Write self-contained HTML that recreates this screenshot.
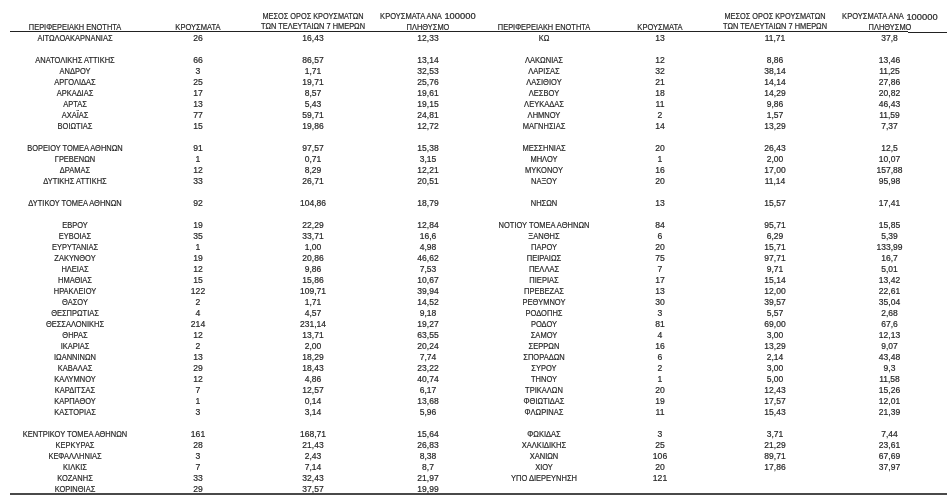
<!DOCTYPE html>
<html><head><meta charset="utf-8"><style>
html,body{margin:0;padding:0;background:#fff;width:951px;height:503px;overflow:hidden}
body{position:relative;filter:grayscale(1);font-family:"Liberation Sans",sans-serif;color:#222}
.c{position:absolute;-webkit-text-stroke:0.2px #333;width:200px;text-align:center;line-height:1;white-space:nowrap}
.ln{position:absolute;background:#222}
</style></head><body>
<div class="ln" style="left:10px;top:31px;width:898px;height:1px"></div>
<div class="ln" style="left:908px;top:32px;width:39px;height:1px"></div>
<div class="ln" style="left:10px;top:493px;width:937px;height:2px;background:#4a4a4a"></div>
<div class="c" style="left:-25.00px;top:34.09px;font-size:8.5px;transform:scaleX(0.88)">ΑΙΤΩΛΟΑΚΑΡΝΑΝΙΑΣ</div>
<div class="c" style="left:98.00px;top:34.08px;font-size:8.6px;transform:scaleX(1)">26</div>
<div class="c" style="left:213.00px;top:34.09px;font-size:8.5px;transform:scaleX(1)">16,43</div>
<div class="c" style="left:328.00px;top:34.09px;font-size:8.5px;transform:scaleX(1)">12,33</div>
<div class="c" style="left:-25.00px;top:56.09px;font-size:8.5px;transform:scaleX(0.88)">ΑΝΑΤΟΛΙΚΗΣ ΑΤΤΙΚΗΣ</div>
<div class="c" style="left:98.00px;top:56.08px;font-size:8.6px;transform:scaleX(1)">66</div>
<div class="c" style="left:213.00px;top:56.09px;font-size:8.5px;transform:scaleX(1)">86,57</div>
<div class="c" style="left:328.00px;top:56.09px;font-size:8.5px;transform:scaleX(1)">13,14</div>
<div class="c" style="left:-25.00px;top:67.09px;font-size:8.5px;transform:scaleX(0.88)">ΑΝΔΡΟΥ</div>
<div class="c" style="left:98.00px;top:67.08px;font-size:8.6px;transform:scaleX(1)">3</div>
<div class="c" style="left:213.00px;top:67.09px;font-size:8.5px;transform:scaleX(1)">1,71</div>
<div class="c" style="left:328.00px;top:67.09px;font-size:8.5px;transform:scaleX(1)">32,53</div>
<div class="c" style="left:-25.00px;top:78.09px;font-size:8.5px;transform:scaleX(0.88)">ΑΡΓΟΛΙΔΑΣ</div>
<div class="c" style="left:98.00px;top:78.08px;font-size:8.6px;transform:scaleX(1)">25</div>
<div class="c" style="left:213.00px;top:78.09px;font-size:8.5px;transform:scaleX(1)">19,71</div>
<div class="c" style="left:328.00px;top:78.09px;font-size:8.5px;transform:scaleX(1)">25,76</div>
<div class="c" style="left:-25.00px;top:89.09px;font-size:8.5px;transform:scaleX(0.88)">ΑΡΚΑΔΙΑΣ</div>
<div class="c" style="left:98.00px;top:89.08px;font-size:8.6px;transform:scaleX(1)">17</div>
<div class="c" style="left:213.00px;top:89.09px;font-size:8.5px;transform:scaleX(1)">8,57</div>
<div class="c" style="left:328.00px;top:89.09px;font-size:8.5px;transform:scaleX(1)">19,61</div>
<div class="c" style="left:-25.00px;top:100.09px;font-size:8.5px;transform:scaleX(0.88)">ΑΡΤΑΣ</div>
<div class="c" style="left:98.00px;top:100.08px;font-size:8.6px;transform:scaleX(1)">13</div>
<div class="c" style="left:213.00px;top:100.09px;font-size:8.5px;transform:scaleX(1)">5,43</div>
<div class="c" style="left:328.00px;top:100.09px;font-size:8.5px;transform:scaleX(1)">19,15</div>
<div class="c" style="left:-25.00px;top:111.09px;font-size:8.5px;transform:scaleX(0.88)">ΑΧΑΪΑΣ</div>
<div class="c" style="left:98.00px;top:111.08px;font-size:8.6px;transform:scaleX(1)">77</div>
<div class="c" style="left:213.00px;top:111.09px;font-size:8.5px;transform:scaleX(1)">59,71</div>
<div class="c" style="left:328.00px;top:111.09px;font-size:8.5px;transform:scaleX(1)">24,81</div>
<div class="c" style="left:-25.00px;top:122.09px;font-size:8.5px;transform:scaleX(0.88)">ΒΟΙΩΤΙΑΣ</div>
<div class="c" style="left:98.00px;top:122.08px;font-size:8.6px;transform:scaleX(1)">15</div>
<div class="c" style="left:213.00px;top:122.09px;font-size:8.5px;transform:scaleX(1)">19,86</div>
<div class="c" style="left:328.00px;top:122.09px;font-size:8.5px;transform:scaleX(1)">12,72</div>
<div class="c" style="left:-25.00px;top:144.09px;font-size:8.5px;transform:scaleX(0.88)">ΒΟΡΕΙΟΥ ΤΟΜΕΑ ΑΘΗΝΩΝ</div>
<div class="c" style="left:98.00px;top:144.08px;font-size:8.6px;transform:scaleX(1)">91</div>
<div class="c" style="left:213.00px;top:144.09px;font-size:8.5px;transform:scaleX(1)">97,57</div>
<div class="c" style="left:328.00px;top:144.09px;font-size:8.5px;transform:scaleX(1)">15,38</div>
<div class="c" style="left:-25.00px;top:155.09px;font-size:8.5px;transform:scaleX(0.88)">ΓΡΕΒΕΝΩΝ</div>
<div class="c" style="left:98.00px;top:155.08px;font-size:8.6px;transform:scaleX(1)">1</div>
<div class="c" style="left:213.00px;top:155.09px;font-size:8.5px;transform:scaleX(1)">0,71</div>
<div class="c" style="left:328.00px;top:155.09px;font-size:8.5px;transform:scaleX(1)">3,15</div>
<div class="c" style="left:-25.00px;top:166.09px;font-size:8.5px;transform:scaleX(0.88)">ΔΡΑΜΑΣ</div>
<div class="c" style="left:98.00px;top:166.08px;font-size:8.6px;transform:scaleX(1)">12</div>
<div class="c" style="left:213.00px;top:166.09px;font-size:8.5px;transform:scaleX(1)">8,29</div>
<div class="c" style="left:328.00px;top:166.09px;font-size:8.5px;transform:scaleX(1)">12,21</div>
<div class="c" style="left:-25.00px;top:177.09px;font-size:8.5px;transform:scaleX(0.88)">ΔΥΤΙΚΗΣ ΑΤΤΙΚΗΣ</div>
<div class="c" style="left:98.00px;top:177.08px;font-size:8.6px;transform:scaleX(1)">33</div>
<div class="c" style="left:213.00px;top:177.09px;font-size:8.5px;transform:scaleX(1)">26,71</div>
<div class="c" style="left:328.00px;top:177.09px;font-size:8.5px;transform:scaleX(1)">20,51</div>
<div class="c" style="left:-25.00px;top:199.09px;font-size:8.5px;transform:scaleX(0.88)">ΔΥΤΙΚΟΥ ΤΟΜΕΑ ΑΘΗΝΩΝ</div>
<div class="c" style="left:98.00px;top:199.08px;font-size:8.6px;transform:scaleX(1)">92</div>
<div class="c" style="left:213.00px;top:199.09px;font-size:8.5px;transform:scaleX(1)">104,86</div>
<div class="c" style="left:328.00px;top:199.09px;font-size:8.5px;transform:scaleX(1)">18,79</div>
<div class="c" style="left:-25.00px;top:221.09px;font-size:8.5px;transform:scaleX(0.88)">ΕΒΡΟΥ</div>
<div class="c" style="left:98.00px;top:221.08px;font-size:8.6px;transform:scaleX(1)">19</div>
<div class="c" style="left:213.00px;top:221.09px;font-size:8.5px;transform:scaleX(1)">22,29</div>
<div class="c" style="left:328.00px;top:221.09px;font-size:8.5px;transform:scaleX(1)">12,84</div>
<div class="c" style="left:-25.00px;top:232.09px;font-size:8.5px;transform:scaleX(0.88)">ΕΥΒΟΙΑΣ</div>
<div class="c" style="left:98.00px;top:232.08px;font-size:8.6px;transform:scaleX(1)">35</div>
<div class="c" style="left:213.00px;top:232.09px;font-size:8.5px;transform:scaleX(1)">33,71</div>
<div class="c" style="left:328.00px;top:232.09px;font-size:8.5px;transform:scaleX(1)">16,6</div>
<div class="c" style="left:-25.00px;top:243.09px;font-size:8.5px;transform:scaleX(0.88)">ΕΥΡΥΤΑΝΙΑΣ</div>
<div class="c" style="left:98.00px;top:243.08px;font-size:8.6px;transform:scaleX(1)">1</div>
<div class="c" style="left:213.00px;top:243.09px;font-size:8.5px;transform:scaleX(1)">1,00</div>
<div class="c" style="left:328.00px;top:243.09px;font-size:8.5px;transform:scaleX(1)">4,98</div>
<div class="c" style="left:-25.00px;top:254.09px;font-size:8.5px;transform:scaleX(0.88)">ΖΑΚΥΝΘΟΥ</div>
<div class="c" style="left:98.00px;top:254.08px;font-size:8.6px;transform:scaleX(1)">19</div>
<div class="c" style="left:213.00px;top:254.09px;font-size:8.5px;transform:scaleX(1)">20,86</div>
<div class="c" style="left:328.00px;top:254.09px;font-size:8.5px;transform:scaleX(1)">46,62</div>
<div class="c" style="left:-25.00px;top:265.09px;font-size:8.5px;transform:scaleX(0.88)">ΗΛΕΙΑΣ</div>
<div class="c" style="left:98.00px;top:265.08px;font-size:8.6px;transform:scaleX(1)">12</div>
<div class="c" style="left:213.00px;top:265.09px;font-size:8.5px;transform:scaleX(1)">9,86</div>
<div class="c" style="left:328.00px;top:265.09px;font-size:8.5px;transform:scaleX(1)">7,53</div>
<div class="c" style="left:-25.00px;top:276.09px;font-size:8.5px;transform:scaleX(0.88)">ΗΜΑΘΙΑΣ</div>
<div class="c" style="left:98.00px;top:276.08px;font-size:8.6px;transform:scaleX(1)">15</div>
<div class="c" style="left:213.00px;top:276.09px;font-size:8.5px;transform:scaleX(1)">15,86</div>
<div class="c" style="left:328.00px;top:276.09px;font-size:8.5px;transform:scaleX(1)">10,67</div>
<div class="c" style="left:-25.00px;top:287.09px;font-size:8.5px;transform:scaleX(0.88)">ΗΡΑΚΛΕΙΟΥ</div>
<div class="c" style="left:98.00px;top:287.08px;font-size:8.6px;transform:scaleX(1)">122</div>
<div class="c" style="left:213.00px;top:287.09px;font-size:8.5px;transform:scaleX(1)">109,71</div>
<div class="c" style="left:328.00px;top:287.09px;font-size:8.5px;transform:scaleX(1)">39,94</div>
<div class="c" style="left:-25.00px;top:298.09px;font-size:8.5px;transform:scaleX(0.88)">ΘΑΣΟΥ</div>
<div class="c" style="left:98.00px;top:298.08px;font-size:8.6px;transform:scaleX(1)">2</div>
<div class="c" style="left:213.00px;top:298.09px;font-size:8.5px;transform:scaleX(1)">1,71</div>
<div class="c" style="left:328.00px;top:298.09px;font-size:8.5px;transform:scaleX(1)">14,52</div>
<div class="c" style="left:-25.00px;top:309.09px;font-size:8.5px;transform:scaleX(0.88)">ΘΕΣΠΡΩΤΙΑΣ</div>
<div class="c" style="left:98.00px;top:309.08px;font-size:8.6px;transform:scaleX(1)">4</div>
<div class="c" style="left:213.00px;top:309.09px;font-size:8.5px;transform:scaleX(1)">4,57</div>
<div class="c" style="left:328.00px;top:309.09px;font-size:8.5px;transform:scaleX(1)">9,18</div>
<div class="c" style="left:-25.00px;top:320.09px;font-size:8.5px;transform:scaleX(0.88)">ΘΕΣΣΑΛΟΝΙΚΗΣ</div>
<div class="c" style="left:98.00px;top:320.08px;font-size:8.6px;transform:scaleX(1)">214</div>
<div class="c" style="left:213.00px;top:320.09px;font-size:8.5px;transform:scaleX(1)">231,14</div>
<div class="c" style="left:328.00px;top:320.09px;font-size:8.5px;transform:scaleX(1)">19,27</div>
<div class="c" style="left:-25.00px;top:331.09px;font-size:8.5px;transform:scaleX(0.88)">ΘΗΡΑΣ</div>
<div class="c" style="left:98.00px;top:331.08px;font-size:8.6px;transform:scaleX(1)">12</div>
<div class="c" style="left:213.00px;top:331.09px;font-size:8.5px;transform:scaleX(1)">13,71</div>
<div class="c" style="left:328.00px;top:331.09px;font-size:8.5px;transform:scaleX(1)">63,55</div>
<div class="c" style="left:-25.00px;top:342.09px;font-size:8.5px;transform:scaleX(0.88)">ΙΚΑΡΙΑΣ</div>
<div class="c" style="left:98.00px;top:342.08px;font-size:8.6px;transform:scaleX(1)">2</div>
<div class="c" style="left:213.00px;top:342.09px;font-size:8.5px;transform:scaleX(1)">2,00</div>
<div class="c" style="left:328.00px;top:342.09px;font-size:8.5px;transform:scaleX(1)">20,24</div>
<div class="c" style="left:-25.00px;top:353.09px;font-size:8.5px;transform:scaleX(0.88)">ΙΩΑΝΝΙΝΩΝ</div>
<div class="c" style="left:98.00px;top:353.08px;font-size:8.6px;transform:scaleX(1)">13</div>
<div class="c" style="left:213.00px;top:353.09px;font-size:8.5px;transform:scaleX(1)">18,29</div>
<div class="c" style="left:328.00px;top:353.09px;font-size:8.5px;transform:scaleX(1)">7,74</div>
<div class="c" style="left:-25.00px;top:364.09px;font-size:8.5px;transform:scaleX(0.88)">ΚΑΒΑΛΑΣ</div>
<div class="c" style="left:98.00px;top:364.08px;font-size:8.6px;transform:scaleX(1)">29</div>
<div class="c" style="left:213.00px;top:364.09px;font-size:8.5px;transform:scaleX(1)">18,43</div>
<div class="c" style="left:328.00px;top:364.09px;font-size:8.5px;transform:scaleX(1)">23,22</div>
<div class="c" style="left:-25.00px;top:375.09px;font-size:8.5px;transform:scaleX(0.88)">ΚΑΛΥΜΝΟΥ</div>
<div class="c" style="left:98.00px;top:375.08px;font-size:8.6px;transform:scaleX(1)">12</div>
<div class="c" style="left:213.00px;top:375.09px;font-size:8.5px;transform:scaleX(1)">4,86</div>
<div class="c" style="left:328.00px;top:375.09px;font-size:8.5px;transform:scaleX(1)">40,74</div>
<div class="c" style="left:-25.00px;top:386.09px;font-size:8.5px;transform:scaleX(0.88)">ΚΑΡΔΙΤΣΑΣ</div>
<div class="c" style="left:98.00px;top:386.08px;font-size:8.6px;transform:scaleX(1)">7</div>
<div class="c" style="left:213.00px;top:386.09px;font-size:8.5px;transform:scaleX(1)">12,57</div>
<div class="c" style="left:328.00px;top:386.09px;font-size:8.5px;transform:scaleX(1)">6,17</div>
<div class="c" style="left:-25.00px;top:397.09px;font-size:8.5px;transform:scaleX(0.88)">ΚΑΡΠΑΘΟΥ</div>
<div class="c" style="left:98.00px;top:397.08px;font-size:8.6px;transform:scaleX(1)">1</div>
<div class="c" style="left:213.00px;top:397.09px;font-size:8.5px;transform:scaleX(1)">0,14</div>
<div class="c" style="left:328.00px;top:397.09px;font-size:8.5px;transform:scaleX(1)">13,68</div>
<div class="c" style="left:-25.00px;top:408.09px;font-size:8.5px;transform:scaleX(0.88)">ΚΑΣΤΟΡΙΑΣ</div>
<div class="c" style="left:98.00px;top:408.08px;font-size:8.6px;transform:scaleX(1)">3</div>
<div class="c" style="left:213.00px;top:408.09px;font-size:8.5px;transform:scaleX(1)">3,14</div>
<div class="c" style="left:328.00px;top:408.09px;font-size:8.5px;transform:scaleX(1)">5,96</div>
<div class="c" style="left:-25.00px;top:430.09px;font-size:8.5px;transform:scaleX(0.88)">ΚΕΝΤΡΙΚΟΥ ΤΟΜΕΑ ΑΘΗΝΩΝ</div>
<div class="c" style="left:98.00px;top:430.08px;font-size:8.6px;transform:scaleX(1)">161</div>
<div class="c" style="left:213.00px;top:430.09px;font-size:8.5px;transform:scaleX(1)">168,71</div>
<div class="c" style="left:328.00px;top:430.09px;font-size:8.5px;transform:scaleX(1)">15,64</div>
<div class="c" style="left:-25.00px;top:441.09px;font-size:8.5px;transform:scaleX(0.88)">ΚΕΡΚΥΡΑΣ</div>
<div class="c" style="left:98.00px;top:441.08px;font-size:8.6px;transform:scaleX(1)">28</div>
<div class="c" style="left:213.00px;top:441.09px;font-size:8.5px;transform:scaleX(1)">21,43</div>
<div class="c" style="left:328.00px;top:441.09px;font-size:8.5px;transform:scaleX(1)">26,83</div>
<div class="c" style="left:-25.00px;top:452.09px;font-size:8.5px;transform:scaleX(0.88)">ΚΕΦΑΛΛΗΝΙΑΣ</div>
<div class="c" style="left:98.00px;top:452.08px;font-size:8.6px;transform:scaleX(1)">3</div>
<div class="c" style="left:213.00px;top:452.09px;font-size:8.5px;transform:scaleX(1)">2,43</div>
<div class="c" style="left:328.00px;top:452.09px;font-size:8.5px;transform:scaleX(1)">8,38</div>
<div class="c" style="left:-25.00px;top:463.09px;font-size:8.5px;transform:scaleX(0.88)">ΚΙΛΚΙΣ</div>
<div class="c" style="left:98.00px;top:463.08px;font-size:8.6px;transform:scaleX(1)">7</div>
<div class="c" style="left:213.00px;top:463.09px;font-size:8.5px;transform:scaleX(1)">7,14</div>
<div class="c" style="left:328.00px;top:463.09px;font-size:8.5px;transform:scaleX(1)">8,7</div>
<div class="c" style="left:-25.00px;top:474.09px;font-size:8.5px;transform:scaleX(0.88)">ΚΟΖΑΝΗΣ</div>
<div class="c" style="left:98.00px;top:474.08px;font-size:8.6px;transform:scaleX(1)">33</div>
<div class="c" style="left:213.00px;top:474.09px;font-size:8.5px;transform:scaleX(1)">32,43</div>
<div class="c" style="left:328.00px;top:474.09px;font-size:8.5px;transform:scaleX(1)">21,97</div>
<div class="c" style="left:-25.00px;top:485.09px;font-size:8.5px;transform:scaleX(0.88)">ΚΟΡΙΝΘΙΑΣ</div>
<div class="c" style="left:98.00px;top:485.08px;font-size:8.6px;transform:scaleX(1)">29</div>
<div class="c" style="left:213.00px;top:485.09px;font-size:8.5px;transform:scaleX(1)">37,57</div>
<div class="c" style="left:328.00px;top:485.09px;font-size:8.5px;transform:scaleX(1)">19,99</div>
<div class="c" style="left:-25.00px;top:22.89px;font-size:8.5px;transform:scaleX(0.8725)">ΠΕΡΙΦΕΡΕΙΑΚΗ ΕΝΟΤΗΤΑ</div>
<div class="c" style="left:98.00px;top:23.39px;font-size:8.5px;transform:scaleX(0.8885)">ΚΡΟΥΣΜΑΤΑ</div>
<div class="c" style="left:213.00px;top:12.49px;font-size:8.5px;transform:scaleX(0.8631)">ΜΕΣΟΣ ΟΡΟΣ ΚΡΟΥΣΜΑΤΩΝ</div>
<div class="c" style="left:213.00px;top:22.39px;font-size:8.5px;transform:scaleX(0.8725)">ΤΩΝ ΤΕΛΕΥΤΑΙΩΝ 7 ΗΜΕΡΩΝ</div>
<div class="c" style="left:311.00px;top:12.49px;font-size:8.5px;transform:scaleX(0.884)">ΚΡΟΥΣΜΑΤΑ ΑΝΑ</div>
<div class="c" style="left:360.40px;top:12.49px;font-size:8.5px;transform:scaleX(1.1)">100000</div>
<div class="c" style="left:328.00px;top:22.89px;font-size:8.5px;transform:scaleX(0.874)">ΠΛΗΘΥΣΜΟ</div>
<div class="c" style="left:444.00px;top:34.09px;font-size:8.5px;transform:scaleX(0.8847)">ΚΩ</div>
<div class="c" style="left:560.00px;top:34.08px;font-size:8.6px;transform:scaleX(1)">13</div>
<div class="c" style="left:675.00px;top:34.09px;font-size:8.5px;transform:scaleX(1)">11,71</div>
<div class="c" style="left:789.50px;top:34.09px;font-size:8.5px;transform:scaleX(1)">37,8</div>
<div class="c" style="left:444.00px;top:56.09px;font-size:8.5px;transform:scaleX(0.8847)">ΛΑΚΩΝΙΑΣ</div>
<div class="c" style="left:560.00px;top:56.08px;font-size:8.6px;transform:scaleX(1)">12</div>
<div class="c" style="left:675.00px;top:56.09px;font-size:8.5px;transform:scaleX(1)">8,86</div>
<div class="c" style="left:789.50px;top:56.09px;font-size:8.5px;transform:scaleX(1)">13,46</div>
<div class="c" style="left:444.00px;top:67.09px;font-size:8.5px;transform:scaleX(0.8847)">ΛΑΡΙΣΑΣ</div>
<div class="c" style="left:560.00px;top:67.08px;font-size:8.6px;transform:scaleX(1)">32</div>
<div class="c" style="left:675.00px;top:67.09px;font-size:8.5px;transform:scaleX(1)">38,14</div>
<div class="c" style="left:789.50px;top:67.09px;font-size:8.5px;transform:scaleX(1)">11,25</div>
<div class="c" style="left:444.00px;top:78.09px;font-size:8.5px;transform:scaleX(0.8847)">ΛΑΣΙΘΙΟΥ</div>
<div class="c" style="left:560.00px;top:78.08px;font-size:8.6px;transform:scaleX(1)">21</div>
<div class="c" style="left:675.00px;top:78.09px;font-size:8.5px;transform:scaleX(1)">14,14</div>
<div class="c" style="left:789.50px;top:78.09px;font-size:8.5px;transform:scaleX(1)">27,86</div>
<div class="c" style="left:444.00px;top:89.09px;font-size:8.5px;transform:scaleX(0.8847)">ΛΕΣΒΟΥ</div>
<div class="c" style="left:560.00px;top:89.08px;font-size:8.6px;transform:scaleX(1)">18</div>
<div class="c" style="left:675.00px;top:89.09px;font-size:8.5px;transform:scaleX(1)">14,29</div>
<div class="c" style="left:789.50px;top:89.09px;font-size:8.5px;transform:scaleX(1)">20,82</div>
<div class="c" style="left:444.00px;top:100.09px;font-size:8.5px;transform:scaleX(0.8847)">ΛΕΥΚΑΔΑΣ</div>
<div class="c" style="left:560.00px;top:100.08px;font-size:8.6px;transform:scaleX(1)">11</div>
<div class="c" style="left:675.00px;top:100.09px;font-size:8.5px;transform:scaleX(1)">9,86</div>
<div class="c" style="left:789.50px;top:100.09px;font-size:8.5px;transform:scaleX(1)">46,43</div>
<div class="c" style="left:444.00px;top:111.09px;font-size:8.5px;transform:scaleX(0.8847)">ΛΗΜΝΟΥ</div>
<div class="c" style="left:560.00px;top:111.08px;font-size:8.6px;transform:scaleX(1)">2</div>
<div class="c" style="left:675.00px;top:111.09px;font-size:8.5px;transform:scaleX(1)">1,57</div>
<div class="c" style="left:789.50px;top:111.09px;font-size:8.5px;transform:scaleX(1)">11,59</div>
<div class="c" style="left:444.00px;top:122.09px;font-size:8.5px;transform:scaleX(0.8847)">ΜΑΓΝΗΣΙΑΣ</div>
<div class="c" style="left:560.00px;top:122.08px;font-size:8.6px;transform:scaleX(1)">14</div>
<div class="c" style="left:675.00px;top:122.09px;font-size:8.5px;transform:scaleX(1)">13,29</div>
<div class="c" style="left:789.50px;top:122.09px;font-size:8.5px;transform:scaleX(1)">7,37</div>
<div class="c" style="left:444.00px;top:144.09px;font-size:8.5px;transform:scaleX(0.8847)">ΜΕΣΣΗΝΙΑΣ</div>
<div class="c" style="left:560.00px;top:144.08px;font-size:8.6px;transform:scaleX(1)">20</div>
<div class="c" style="left:675.00px;top:144.09px;font-size:8.5px;transform:scaleX(1)">26,43</div>
<div class="c" style="left:789.50px;top:144.09px;font-size:8.5px;transform:scaleX(1)">12,5</div>
<div class="c" style="left:444.00px;top:155.09px;font-size:8.5px;transform:scaleX(0.8847)">ΜΗΛΟΥ</div>
<div class="c" style="left:560.00px;top:155.08px;font-size:8.6px;transform:scaleX(1)">1</div>
<div class="c" style="left:675.00px;top:155.09px;font-size:8.5px;transform:scaleX(1)">2,00</div>
<div class="c" style="left:789.50px;top:155.09px;font-size:8.5px;transform:scaleX(1)">10,07</div>
<div class="c" style="left:444.00px;top:166.09px;font-size:8.5px;transform:scaleX(0.8847)">ΜΥΚΟΝΟΥ</div>
<div class="c" style="left:560.00px;top:166.08px;font-size:8.6px;transform:scaleX(1)">16</div>
<div class="c" style="left:675.00px;top:166.09px;font-size:8.5px;transform:scaleX(1)">17,00</div>
<div class="c" style="left:789.50px;top:166.09px;font-size:8.5px;transform:scaleX(1)">157,88</div>
<div class="c" style="left:444.00px;top:177.09px;font-size:8.5px;transform:scaleX(0.8847)">ΝΑΞΟΥ</div>
<div class="c" style="left:560.00px;top:177.08px;font-size:8.6px;transform:scaleX(1)">20</div>
<div class="c" style="left:675.00px;top:177.09px;font-size:8.5px;transform:scaleX(1)">11,14</div>
<div class="c" style="left:789.50px;top:177.09px;font-size:8.5px;transform:scaleX(1)">95,98</div>
<div class="c" style="left:444.00px;top:199.09px;font-size:8.5px;transform:scaleX(0.8847)">ΝΗΣΩΝ</div>
<div class="c" style="left:560.00px;top:199.08px;font-size:8.6px;transform:scaleX(1)">13</div>
<div class="c" style="left:675.00px;top:199.09px;font-size:8.5px;transform:scaleX(1)">15,57</div>
<div class="c" style="left:789.50px;top:199.09px;font-size:8.5px;transform:scaleX(1)">17,41</div>
<div class="c" style="left:444.00px;top:221.09px;font-size:8.5px;transform:scaleX(0.8847)">ΝΟΤΙΟΥ ΤΟΜΕΑ ΑΘΗΝΩΝ</div>
<div class="c" style="left:560.00px;top:221.08px;font-size:8.6px;transform:scaleX(1)">84</div>
<div class="c" style="left:675.00px;top:221.09px;font-size:8.5px;transform:scaleX(1)">95,71</div>
<div class="c" style="left:789.50px;top:221.09px;font-size:8.5px;transform:scaleX(1)">15,85</div>
<div class="c" style="left:444.00px;top:232.09px;font-size:8.5px;transform:scaleX(0.8847)">ΞΑΝΘΗΣ</div>
<div class="c" style="left:560.00px;top:232.08px;font-size:8.6px;transform:scaleX(1)">6</div>
<div class="c" style="left:675.00px;top:232.09px;font-size:8.5px;transform:scaleX(1)">6,29</div>
<div class="c" style="left:789.50px;top:232.09px;font-size:8.5px;transform:scaleX(1)">5,39</div>
<div class="c" style="left:444.00px;top:243.09px;font-size:8.5px;transform:scaleX(0.8847)">ΠΑΡΟΥ</div>
<div class="c" style="left:560.00px;top:243.08px;font-size:8.6px;transform:scaleX(1)">20</div>
<div class="c" style="left:675.00px;top:243.09px;font-size:8.5px;transform:scaleX(1)">15,71</div>
<div class="c" style="left:789.50px;top:243.09px;font-size:8.5px;transform:scaleX(1)">133,99</div>
<div class="c" style="left:444.00px;top:254.09px;font-size:8.5px;transform:scaleX(0.8847)">ΠΕΙΡΑΙΩΣ</div>
<div class="c" style="left:560.00px;top:254.08px;font-size:8.6px;transform:scaleX(1)">75</div>
<div class="c" style="left:675.00px;top:254.09px;font-size:8.5px;transform:scaleX(1)">97,71</div>
<div class="c" style="left:789.50px;top:254.09px;font-size:8.5px;transform:scaleX(1)">16,7</div>
<div class="c" style="left:444.00px;top:265.09px;font-size:8.5px;transform:scaleX(0.8847)">ΠΕΛΛΑΣ</div>
<div class="c" style="left:560.00px;top:265.08px;font-size:8.6px;transform:scaleX(1)">7</div>
<div class="c" style="left:675.00px;top:265.09px;font-size:8.5px;transform:scaleX(1)">9,71</div>
<div class="c" style="left:789.50px;top:265.09px;font-size:8.5px;transform:scaleX(1)">5,01</div>
<div class="c" style="left:444.00px;top:276.09px;font-size:8.5px;transform:scaleX(0.8847)">ΠΙΕΡΙΑΣ</div>
<div class="c" style="left:560.00px;top:276.08px;font-size:8.6px;transform:scaleX(1)">17</div>
<div class="c" style="left:675.00px;top:276.09px;font-size:8.5px;transform:scaleX(1)">15,14</div>
<div class="c" style="left:789.50px;top:276.09px;font-size:8.5px;transform:scaleX(1)">13,42</div>
<div class="c" style="left:444.00px;top:287.09px;font-size:8.5px;transform:scaleX(0.8847)">ΠΡΕΒΕΖΑΣ</div>
<div class="c" style="left:560.00px;top:287.08px;font-size:8.6px;transform:scaleX(1)">13</div>
<div class="c" style="left:675.00px;top:287.09px;font-size:8.5px;transform:scaleX(1)">12,00</div>
<div class="c" style="left:789.50px;top:287.09px;font-size:8.5px;transform:scaleX(1)">22,61</div>
<div class="c" style="left:444.00px;top:298.09px;font-size:8.5px;transform:scaleX(0.8847)">ΡΕΘΥΜΝΟΥ</div>
<div class="c" style="left:560.00px;top:298.08px;font-size:8.6px;transform:scaleX(1)">30</div>
<div class="c" style="left:675.00px;top:298.09px;font-size:8.5px;transform:scaleX(1)">39,57</div>
<div class="c" style="left:789.50px;top:298.09px;font-size:8.5px;transform:scaleX(1)">35,04</div>
<div class="c" style="left:444.00px;top:309.09px;font-size:8.5px;transform:scaleX(0.8847)">ΡΟΔΟΠΗΣ</div>
<div class="c" style="left:560.00px;top:309.08px;font-size:8.6px;transform:scaleX(1)">3</div>
<div class="c" style="left:675.00px;top:309.09px;font-size:8.5px;transform:scaleX(1)">5,57</div>
<div class="c" style="left:789.50px;top:309.09px;font-size:8.5px;transform:scaleX(1)">2,68</div>
<div class="c" style="left:444.00px;top:320.09px;font-size:8.5px;transform:scaleX(0.8847)">ΡΟΔΟΥ</div>
<div class="c" style="left:560.00px;top:320.08px;font-size:8.6px;transform:scaleX(1)">81</div>
<div class="c" style="left:675.00px;top:320.09px;font-size:8.5px;transform:scaleX(1)">69,00</div>
<div class="c" style="left:789.50px;top:320.09px;font-size:8.5px;transform:scaleX(1)">67,6</div>
<div class="c" style="left:444.00px;top:331.09px;font-size:8.5px;transform:scaleX(0.8847)">ΣΑΜΟΥ</div>
<div class="c" style="left:560.00px;top:331.08px;font-size:8.6px;transform:scaleX(1)">4</div>
<div class="c" style="left:675.00px;top:331.09px;font-size:8.5px;transform:scaleX(1)">3,00</div>
<div class="c" style="left:789.50px;top:331.09px;font-size:8.5px;transform:scaleX(1)">12,13</div>
<div class="c" style="left:444.00px;top:342.09px;font-size:8.5px;transform:scaleX(0.8847)">ΣΕΡΡΩΝ</div>
<div class="c" style="left:560.00px;top:342.08px;font-size:8.6px;transform:scaleX(1)">16</div>
<div class="c" style="left:675.00px;top:342.09px;font-size:8.5px;transform:scaleX(1)">13,29</div>
<div class="c" style="left:789.50px;top:342.09px;font-size:8.5px;transform:scaleX(1)">9,07</div>
<div class="c" style="left:444.00px;top:353.09px;font-size:8.5px;transform:scaleX(0.8847)">ΣΠΟΡΑΔΩΝ</div>
<div class="c" style="left:560.00px;top:353.08px;font-size:8.6px;transform:scaleX(1)">6</div>
<div class="c" style="left:675.00px;top:353.09px;font-size:8.5px;transform:scaleX(1)">2,14</div>
<div class="c" style="left:789.50px;top:353.09px;font-size:8.5px;transform:scaleX(1)">43,48</div>
<div class="c" style="left:444.00px;top:364.09px;font-size:8.5px;transform:scaleX(0.8847)">ΣΥΡΟΥ</div>
<div class="c" style="left:560.00px;top:364.08px;font-size:8.6px;transform:scaleX(1)">2</div>
<div class="c" style="left:675.00px;top:364.09px;font-size:8.5px;transform:scaleX(1)">3,00</div>
<div class="c" style="left:789.50px;top:364.09px;font-size:8.5px;transform:scaleX(1)">9,3</div>
<div class="c" style="left:444.00px;top:375.09px;font-size:8.5px;transform:scaleX(0.8847)">ΤΗΝΟΥ</div>
<div class="c" style="left:560.00px;top:375.08px;font-size:8.6px;transform:scaleX(1)">1</div>
<div class="c" style="left:675.00px;top:375.09px;font-size:8.5px;transform:scaleX(1)">5,00</div>
<div class="c" style="left:789.50px;top:375.09px;font-size:8.5px;transform:scaleX(1)">11,58</div>
<div class="c" style="left:444.00px;top:386.09px;font-size:8.5px;transform:scaleX(0.8847)">ΤΡΙΚΑΛΩΝ</div>
<div class="c" style="left:560.00px;top:386.08px;font-size:8.6px;transform:scaleX(1)">20</div>
<div class="c" style="left:675.00px;top:386.09px;font-size:8.5px;transform:scaleX(1)">12,43</div>
<div class="c" style="left:789.50px;top:386.09px;font-size:8.5px;transform:scaleX(1)">15,26</div>
<div class="c" style="left:444.00px;top:397.09px;font-size:8.5px;transform:scaleX(0.8847)">ΦΘΙΩΤΙΔΑΣ</div>
<div class="c" style="left:560.00px;top:397.08px;font-size:8.6px;transform:scaleX(1)">19</div>
<div class="c" style="left:675.00px;top:397.09px;font-size:8.5px;transform:scaleX(1)">17,57</div>
<div class="c" style="left:789.50px;top:397.09px;font-size:8.5px;transform:scaleX(1)">12,01</div>
<div class="c" style="left:444.00px;top:408.09px;font-size:8.5px;transform:scaleX(0.8847)">ΦΛΩΡΙΝΑΣ</div>
<div class="c" style="left:560.00px;top:408.08px;font-size:8.6px;transform:scaleX(1)">11</div>
<div class="c" style="left:675.00px;top:408.09px;font-size:8.5px;transform:scaleX(1)">15,43</div>
<div class="c" style="left:789.50px;top:408.09px;font-size:8.5px;transform:scaleX(1)">21,39</div>
<div class="c" style="left:444.00px;top:430.09px;font-size:8.5px;transform:scaleX(0.8847)">ΦΩΚΙΔΑΣ</div>
<div class="c" style="left:560.00px;top:430.08px;font-size:8.6px;transform:scaleX(1)">3</div>
<div class="c" style="left:675.00px;top:430.09px;font-size:8.5px;transform:scaleX(1)">3,71</div>
<div class="c" style="left:789.50px;top:430.09px;font-size:8.5px;transform:scaleX(1)">7,44</div>
<div class="c" style="left:444.00px;top:441.09px;font-size:8.5px;transform:scaleX(0.8847)">ΧΑΛΚΙΔΙΚΗΣ</div>
<div class="c" style="left:560.00px;top:441.08px;font-size:8.6px;transform:scaleX(1)">25</div>
<div class="c" style="left:675.00px;top:441.09px;font-size:8.5px;transform:scaleX(1)">21,29</div>
<div class="c" style="left:789.50px;top:441.09px;font-size:8.5px;transform:scaleX(1)">23,61</div>
<div class="c" style="left:444.00px;top:452.09px;font-size:8.5px;transform:scaleX(0.8847)">ΧΑΝΙΩΝ</div>
<div class="c" style="left:560.00px;top:452.08px;font-size:8.6px;transform:scaleX(1)">106</div>
<div class="c" style="left:675.00px;top:452.09px;font-size:8.5px;transform:scaleX(1)">89,71</div>
<div class="c" style="left:789.50px;top:452.09px;font-size:8.5px;transform:scaleX(1)">67,69</div>
<div class="c" style="left:444.00px;top:463.09px;font-size:8.5px;transform:scaleX(0.8847)">ΧΙΟΥ</div>
<div class="c" style="left:560.00px;top:463.08px;font-size:8.6px;transform:scaleX(1)">20</div>
<div class="c" style="left:675.00px;top:463.09px;font-size:8.5px;transform:scaleX(1)">17,86</div>
<div class="c" style="left:789.50px;top:463.09px;font-size:8.5px;transform:scaleX(1)">37,97</div>
<div class="c" style="left:444.00px;top:474.09px;font-size:8.5px;transform:scaleX(0.8847)">ΥΠΟ ΔΙΕΡΕΥΝΗΣΗ</div>
<div class="c" style="left:560.00px;top:474.08px;font-size:8.6px;transform:scaleX(1)">121</div>
<div class="c" style="left:444.00px;top:22.89px;font-size:8.5px;transform:scaleX(0.8725)">ΠΕΡΙΦΕΡΕΙΑΚΗ ΕΝΟΤΗΤΑ</div>
<div class="c" style="left:560.00px;top:23.39px;font-size:8.5px;transform:scaleX(0.8885)">ΚΡΟΥΣΜΑΤΑ</div>
<div class="c" style="left:675.00px;top:12.49px;font-size:8.5px;transform:scaleX(0.8631)">ΜΕΣΟΣ ΟΡΟΣ ΚΡΟΥΣΜΑΤΩΝ</div>
<div class="c" style="left:675.00px;top:22.39px;font-size:8.5px;transform:scaleX(0.8725)">ΤΩΝ ΤΕΛΕΥΤΑΙΩΝ 7 ΗΜΕΡΩΝ</div>
<div class="c" style="left:789.50px;top:22.89px;font-size:8.5px;transform:scaleX(0.874)">ΠΛΗΘΥΣΜΟ</div>
<div class="c" style="left:773.00px;top:12.49px;font-size:8.5px;transform:scaleX(0.884)">ΚΡΟΥΣΜΑΤΑ ΑΝΑ</div>
<div style="position:absolute;left:911px;top:22px;width:45px;height:9px;background:#fff"></div>
<div class="c" style="left:822.40px;top:12.79px;font-size:8.5px;transform:scaleX(1.1)">100000</div>
</body></html>
